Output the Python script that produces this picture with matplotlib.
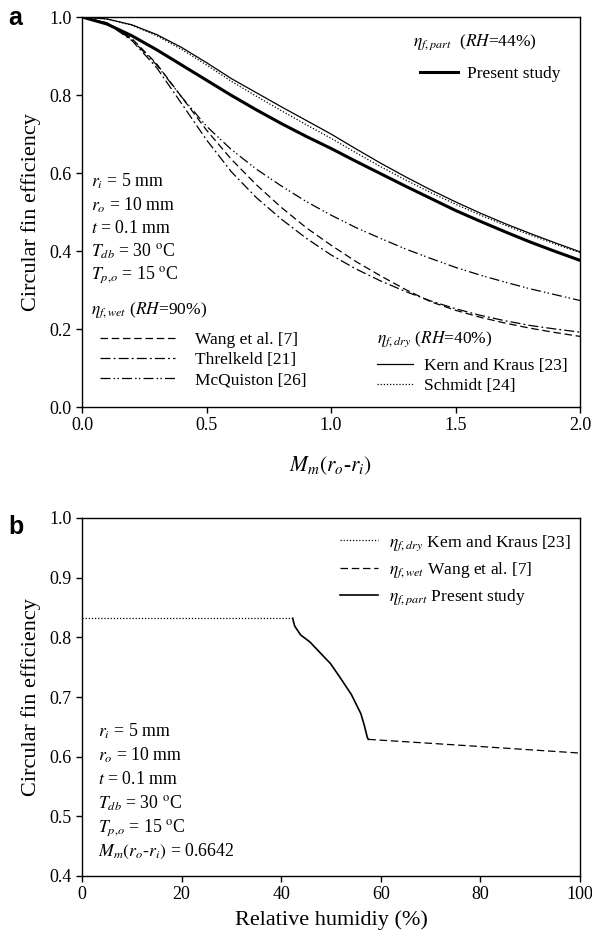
import numpy as np
import matplotlib
matplotlib.use("Agg")
import matplotlib.pyplot as plt
from matplotlib.lines import Line2D

plt.rcParams['font.family'] = 'serif'
plt.rcParams['font.serif'] = ['Liberation Serif', 'DejaVu Serif']
plt.rcParams['mathtext.fontset'] = 'stix'

# ---- panel a data: fin efficiency vs Mm(ro-ri)
m_param = [0.0, 0.1, 0.2, 0.3, 0.4, 0.5, 0.6, 0.7, 0.8, 0.9, 1.0,
           1.1, 1.2, 1.3, 1.4, 1.5, 1.6, 1.7, 1.8, 1.9, 2.0]
kern_kraus = [1.000, 0.995, 0.980, 0.955, 0.922, 0.883, 0.842, 0.806, 0.770, 0.735, 0.700,
              0.662, 0.625, 0.590, 0.557, 0.526, 0.497, 0.470, 0.445, 0.421, 0.398]
schmidt = [1.000, 0.995, 0.979, 0.952, 0.917, 0.877, 0.835, 0.797, 0.760, 0.724, 0.689,
           0.652, 0.616, 0.582, 0.550, 0.520, 0.492, 0.466, 0.441, 0.418, 0.396]
present = [1.000, 0.982, 0.952, 0.916, 0.877, 0.838, 0.799, 0.762, 0.727, 0.694, 0.663,
           0.630, 0.598, 0.566, 0.535, 0.504, 0.476, 0.449, 0.423, 0.399, 0.376]
wang = [1.000, 0.985, 0.945, 0.880, 0.795, 0.710, 0.635, 0.570, 0.512, 0.460, 0.415,
        0.373, 0.336, 0.301, 0.270, 0.248, 0.230, 0.215, 0.202, 0.191, 0.181]
threlkeld = [1.000, 0.984, 0.940, 0.870, 0.778, 0.685, 0.603, 0.537, 0.482, 0.433, 0.390,
             0.354, 0.323, 0.296, 0.272, 0.252, 0.235, 0.221, 0.209, 0.200, 0.192]
mcquiston = [1.000, 0.985, 0.942, 0.877, 0.795, 0.720, 0.660, 0.610, 0.567, 0.527, 0.492,
             0.460, 0.432, 0.405, 0.381, 0.358, 0.338, 0.320, 0.303, 0.288, 0.273]

# ---- panel b data: fin efficiency vs relative humidity
rh_dry = [0.0, 42.3]
eta_dry = [0.832, 0.832]
rh_part = [42.3, 42.7, 43.9, 45.8, 48.4, 49.9, 51.8, 54.1, 56.0, 56.7, 57.3, 57.5]
eta_part = [0.832, 0.819, 0.804, 0.792, 0.769, 0.756, 0.733, 0.704, 0.672, 0.652, 0.632, 0.629]
rh_wet = [57.5, 80.0, 100.0]
eta_wet = [0.629, 0.617, 0.606]

DOT = (0, (1, 1.5))
DASH = (0, (6, 3))
DASHDOT = (0, (8, 2.5, 1.5, 2.5))
DASHDOTDOT = (0, (8, 2.5, 1.2, 1.8, 1.2, 2.5))

FS_TICK = 13
FS_LABEL = 16
FS_LEG = 12.5
FS_INFO = 12.8

fig = plt.figure(figsize=(5.92, 9.39), dpi=100)
ax1 = fig.add_axes([82 / 592, 1 - 407 / 939, 498 / 592, 390 / 939])
ax2 = fig.add_axes([82 / 592, 1 - 876 / 939, 498 / 592, 358 / 939])

for ax in (ax1, ax2):
    ax.tick_params(direction='out', length=4, width=1, labelsize=FS_TICK, top=False, right=False)
    for s in ax.spines.values():
        s.set_linewidth(1)

lw = 0.9
ax1.plot(m_param, kern_kraus, color='black', lw=lw)
ax1.plot(m_param, schmidt, color='black', lw=lw, linestyle=DOT)
ax1.plot(m_param, present, color='black', lw=2.2)
ax1.plot(m_param, wang, color='black', lw=lw, linestyle=DASH)
ax1.plot(m_param, threlkeld, color='black', lw=lw, linestyle=DASHDOT)
ax1.plot(m_param, mcquiston, color='black', lw=lw, linestyle=DASHDOTDOT)

ax1.set_xlim(0, 2.0)
ax1.set_ylim(0, 1.0)
ax1.set_xticks([0.0, 0.5, 1.0, 1.5, 2.0])
ax1.set_yticks([0.0, 0.2, 0.4, 0.6, 0.8, 1.0])
ax1.set_xticklabels(['0.0', '0.5', '1.0', '1.5', '2.0'])
ax1.set_yticklabels(['0.0', '0.2', '0.4', '0.6', '0.8', '1.0'])
ax1.set_xlabel(r'$M_m(r_o$-$r_i)$', fontsize=15.5, labelpad=14)
ax1.set_ylabel('Circular fin efficiency', fontsize=FS_LABEL, labelpad=6)

# legends panel a (group headers drawn as text)
leg_kw = dict(frameon=False, fontsize=FS_LEG, loc='upper left', borderpad=0,
              borderaxespad=0)
ax1.text(0.665, 0.936, r'$\eta_{f,part}$  ($RH$=44%)', transform=ax1.transAxes,
         fontsize=FS_LEG, va='center', ha='left')
lg1 = ax1.legend([Line2D([], [], color='black', lw=2.2)], ['Present study'],
                 bbox_to_anchor=(0.679, 0.874), handlelength=2.2, handletextpad=0.52,
                 **leg_kw)
ax1.add_artist(lg1)

ax1.text(0.018, 0.249, r'$\eta_{f,wet}$ ($RH$=90%)', transform=ax1.transAxes,
         fontsize=FS_LEG, va='center', ha='left')
h_wet = [Line2D([], [], color='black', lw=lw, linestyle=DASH),
         Line2D([], [], color='black', lw=lw, linestyle=DASHDOT),
         Line2D([], [], color='black', lw=lw, linestyle=DASHDOTDOT)]
lg2 = ax1.legend(h_wet, ['Wang et al. [7]', 'Threlkeld [21]', 'McQuiston [26]'],
                 bbox_to_anchor=(0.036, 0.192), handlelength=4.3, handletextpad=1.15,
                 labelspacing=0.22, **leg_kw)
ax1.add_artist(lg2)

ax1.text(0.592, 0.174, r'$\eta_{f,dry}$ ($RH$=40%)', transform=ax1.transAxes,
         fontsize=FS_LEG, va='center', ha='left')
h_dry = [Line2D([], [], color='black', lw=lw),
         Line2D([], [], color='black', lw=lw, linestyle=DOT)]
ax1.legend(h_dry, ['Kern and Kraus [23]', 'Schmidt [24]'],
           bbox_to_anchor=(0.592, 0.125), handlelength=2.07, handletextpad=0.63,
           labelspacing=0.22, **leg_kw)

info_a = [r'$r_i$ = 5 mm', r'$r_o$ = 10 mm', r'$t$ = 0.1 mm',
          r'$T_{db}$ = 30 $^{\mathrm{o}}$C', r'$T_{p,\!o}$ = 15 $^{\mathrm{o}}$C']
for i, s in enumerate(info_a):
    ax1.text(0.035, 0.578 - i * 0.06, s, fontsize=FS_INFO, va='center', ha='left')

# panel b
ax2.plot(rh_dry, eta_dry, color='black', lw=lw, linestyle=DOT,
         label=r'$\eta_{f,dry}$ Kern and Kraus [23]')
ax2.plot(rh_wet, eta_wet, color='black', lw=lw, linestyle=DASH,
         label=r'$\eta_{f,wet}$ Wang et al. [7]')
ax2.plot(rh_part, eta_part, color='black', lw=1.2, label=r'$\eta_{f,part}$ Present study')
ax2.set_xlim(0, 100)
ax2.set_ylim(0.4, 1.0)
ax2.set_xticks([0, 20, 40, 60, 80, 100])
ax2.set_yticks([0.4, 0.5, 0.6, 0.7, 0.8, 0.9, 1.0])
ax2.set_yticklabels(['0.4', '0.5', '0.6', '0.7', '0.8', '0.9', '1.0'])
ax2.set_xlabel('Relative humidiy (%)', fontsize=FS_LABEL, labelpad=5)
ax2.set_ylabel('Circular fin efficiency', fontsize=FS_LABEL, labelpad=6)
ax2.legend(frameon=False, fontsize=FS_LEG, loc='upper left', bbox_to_anchor=(0.518, 0.958),
           borderpad=0, borderaxespad=0, handlelength=2.2, handletextpad=0.63,
           labelspacing=0.45)

info_b = [r'$r_i$ = 5 mm', r'$r_o$ = 10 mm', r'$t$ = 0.1 mm',
          r'$T_{db}$ = 30 $^{\mathrm{o}}$C', r'$T_{p,\!o}$ = 15 $^{\mathrm{o}}$C',
          r'$M_m(r_o$-$r_i)$ = 0.6642']
for i, s in enumerate(info_b):
    ax2.text(3.2, 0.643 - i * 0.0405, s, fontsize=FS_INFO, va='center', ha='left')

fig.text(8 / 592, 1 - 18 / 939, 'a', fontsize=18, fontweight='bold',
         family='Liberation Sans', va='center', ha='left')
fig.text(8 / 592, 1 - 527 / 939, 'b', fontsize=18, fontweight='bold',
         family='Liberation Sans', va='center', ha='left')

fig.savefig('out.png', dpi=100)
